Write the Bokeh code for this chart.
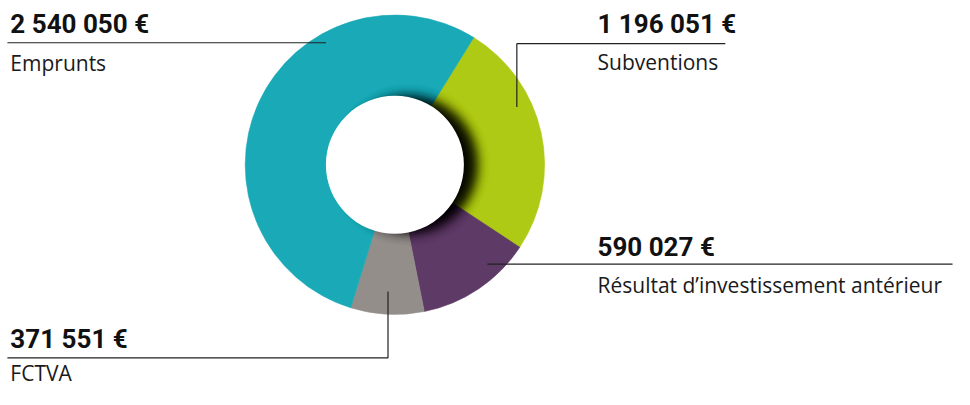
import numpy as np
from bokeh.plotting import figure
from bokeh.models import Range1d
from bokeh.embed import file_html
from bokeh.resources import INLINE
from bokeh.core.properties import value

# ---------------- data ----------------
categories = ["Subventions", "Résultat d’investissement antérieur", "FCTVA", "Emprunts"]
amounts = [1196051, 590027, 371551, 2540050]
colors = ["#AFCA14", "#5E3A66", "#938E8A", "#19A9B7"]

# ---------------- layout ----------------
W, H = 954, 389          # figure size in pixels
RW, RH = 970, 405        # design space (reference frame)
SC = (W / RW + H / RH) / 2.0


def fy(yp):
    return RH - yp


TXT_SHIFT = 9.0 / (H / RH)   # compensate svg baseline offset

cx, cy = 401, fy(171)
R_OUT, R_IN = 154 * SC, 71 * SC
START_CW = 31.8  # degrees clockwise from 12 o'clock where first slice starts

p = figure(width=W, height=H, x_range=Range1d(0, RW), y_range=Range1d(0, RH),
           output_backend="svg", toolbar_location=None,
           x_axis_type=None, y_axis_type=None,
           min_border=0, min_border_left=0, min_border_right=0,
           min_border_top=0, min_border_bottom=0)
p.grid.visible = False
p.outline_line_color = None
p.background_fill_color = "white"
p.border_fill_color = "white"

vals = np.array(amounts, dtype=float)
frac = vals / vals.sum()
cw_end = START_CW + np.cumsum(frac) * 360.0
cw_start = cw_end - frac * 360.0
start_angle = np.radians(90.0 - cw_end)
end_angle = np.radians(90.0 - cw_start)

p.annular_wedge(x=[cx] * len(vals), y=[cy] * len(vals),
                inner_radius=R_IN - 2, outer_radius=R_OUT,
                inner_radius_units="screen", outer_radius_units="screen",
                start_angle=list(start_angle), end_angle=list(end_angle),
                direction="anticlock",
                fill_color=colors, line_color=colors, line_width=0.6)

# soft shadow cast by the hole
sh_dx, sh_dy, sh_r, sh_sigma = 14, 0, 66 * SC, 6.5
zs = np.linspace(-3, 3, 41)
dz = zs[1] - zs[0]
pdf = np.exp(-zs ** 2 / 2) / np.sqrt(2 * np.pi)
Wtot = -np.log(1 - 0.93)
alphas = 1 - np.exp(-Wtot * pdf * dz)
for z, a in zip(zs, alphas):
    r = sh_r + sh_sigma * z
    p.circle(x=[cx + sh_dx], y=[cy + sh_dy], radius=r, radius_units="screen",
             fill_color="black", fill_alpha=float(a), line_color=None)

p.circle(x=[cx], y=[cy], radius=R_IN, radius_units="screen",
         fill_color="white", line_color=None)

# ---------------- labels ----------------
value_labels = [f"{int(v):,}".replace(",", " ") + " €" for v in amounts]

label_x = [607, 607, 10, 10]
value_y = [fy(34 - TXT_SHIFT), fy(266 - TXT_SHIFT), fy(362 - TXT_SHIFT), fy(34 - TXT_SHIFT)]
name_y = [fy(73 - TXT_SHIFT), fy(306 - TXT_SHIFT), fy(397 - TXT_SHIFT), fy(74 - TXT_SHIFT)]

p.text(x=label_x, y=value_y, text=value_labels,
       text_font=value("Roboto"), text_font_style="bold", text_font_size="26px",
       text_color="#111111", text_baseline="alphabetic", text_align="left")
p.text(x=label_x, y=name_y, text=categories,
       text_font=value("Open Sans"), text_font_size="21px",
       text_color="#1a1a1a", text_baseline="alphabetic", text_align="left")

# leader lines
leader_xs = [
    [525, 525, 737],
    [495, 968],
    [394, 394, 7],
    [7, 331],
]
leader_ys = [
    [fy(111), fy(45), fy(45)],
    [fy(274.5), fy(274.5)],
    [fy(303), fy(372), fy(372)],
    [fy(44), fy(44)],
]
p.multi_line(xs=leader_xs, ys=leader_ys, line_color="#222222", line_width=1.2)

open("out.html", "w").write(file_html(p, INLINE))
